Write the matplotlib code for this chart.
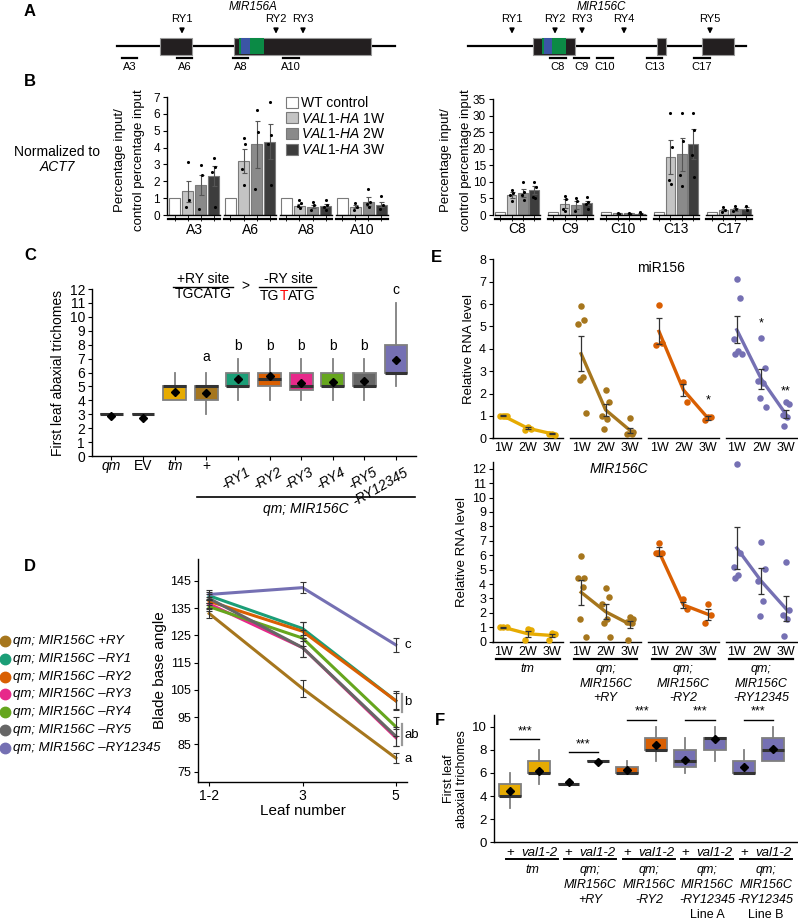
import matplotlib
matplotlib.use('Agg')
import matplotlib.pyplot as plt
import matplotlib.patches as patches
from matplotlib.lines import Line2D
from matplotlib.transforms import blended_transform_factory
import numpy as np

plt.rcParams['font.family'] = ['Liberation Sans', 'DejaVu Sans']
plt.rcParams['mathtext.fontset'] = 'custom'
plt.rcParams['mathtext.rm'] = 'Liberation Sans'
plt.rcParams['mathtext.it'] = 'Liberation Sans:italic'

# ---------------- data ----------------
# A: gene schematics (diagram units)
a_span = (117, 395)
a_exons = [(160, 192), (234, 371)]
a_blocks = [(239, 241, 'g'), (241, 250, 'b'), (250, 264, 'g')]
a_ry = {'RY1': 182, 'RY2': 276, 'RY3': 303}
a_primers = {'A3': (122, 137), 'A6': (177, 192), 'A8': (233, 248), 'A10': (283, 299)}

c_span = (468, 746)
c_exons = [(533, 575), (657, 666), (702, 734)]
c_blocks = [(542, 544, 'g'), (544, 552, 'b'), (552, 566, 'g')]
c_ry = {'RY1': 512, 'RY2': 555, 'RY3': 582, 'RY4': 624, 'RY5': 710}
c_primers = {'C8': (550, 566), 'C9': (574, 589), 'C10': (597, 613), 'C13': (647, 662), 'C17': (694, 710)}

# B: ChIP bars (WT control, 1W, 2W, 3W)
b_series = ['WT control', 'VAL1-HA 1W', 'VAL1-HA 2W', 'VAL1-HA 3W']
bl_groups = ['A3', 'A6', 'A8', 'A10']
bl_means = [[1, 1.4, 1.8, 2.3], [1, 3.2, 4.2, 4.35], [1, 0.55, 0.5, 0.55], [1, 0.5, 0.8, 0.6]]
bl_err = [[0, 0.6, 0.6, 0.6], [0, 0.7, 1.4, 1.05], [0, 0.08, 0.1, 0.1], [0, 0.1, 0.25, 0.15]]
bl_pts = [[[3.15, 0.9, 0.45], [2.95, 2.4, 0.35], [3.4, 2.85, 2.55, 0.5]],
          [[4.55, 4.2, 2.75, 1.8], [6.25, 4.95, 1.55], [6.7, 4.75, 4.2, 1.8]],
          [[0.9, 0.7, 0.55, 0.4], [0.75, 0.6, 0.3], [0.9, 0.6, 0.45, 0.3]],
          [[0.7, 0.45, 0.3], [1.55, 0.8, 0.65, 0.45], [1.1, 0.6, 0.35]]]
br_groups = ['C8', 'C9', 'C10', 'C13', 'C17']
br_means = [[1, 6.0, 6.7, 7.5], [1, 3.4, 2.9, 3.5], [1, 0.5, 0.5, 0.45],
            [1, 17.5, 18.3, 21.5], [1, 1.5, 1.7, 1.9]]
br_err = [[0, 0.8, 1.2, 1.3], [0, 1.3, 1.2, 0.6], [0, 0.1, 0.1, 0.15],
          [0, 5.0, 5.0, 4.5], [0, 0.4, 0.4, 0.5]]
br_pts = [[[7.5, 6.6, 5.9, 4.3], [10.1, 7.0, 6.0, 4.6], [10.0, 8.5, 5.5, 5.0]],
          [[5.8, 4.8, 1.8, 1.2], [5.0, 4.1, 1.2], [5.3, 4.0, 3.4, 1.8]],
          [[0.6, 0.4], [0.55, 0.4], [0.8, 0.3]],
          [[30.9, 20.4, 10.7, 9.4], [30.9, 22.3, 12.2, 8.7], [30.9, 25.7, 18.2, 11.5]],
          [[2.5, 1.6, 1.0], [2.6, 1.8, 1.3], [2.6, 1.5]]]

# C: trichome boxes
c_labels = ['qm', 'EV', 'tm', '+', '-RY1', '-RY2', '-RY3', '-RY4', '-RY5', '-RY12345']
c_q1 = [3, 3, 4, 4, 5, 5, 4.75, 5, 5, 6]
c_med = [3, 3, 5, 5, 5, 5.5, 5, 5, 5, 6]
c_q3 = [3, 3, 5, 5, 6, 6, 6, 6, 6, 8]
c_lo = [3, 3, 4, 3, 4, 4, 4, 4, 4, 5]
c_hi = [3, 3, 6, 6, 7, 7, 7, 7, 7, 11]
c_mean = [2.9, 2.75, 4.6, 4.5, 5.55, 5.75, 5.25, 5.3, 5.4, 6.9]
c_letters = ['', '', '', 'a', 'b', 'b', 'b', 'b', 'b', 'c']
c_letter_y = [0, 0, 0, 7.1, 7.9, 7.9, 7.9, 7.9, 7.9, 11.9]

# D: blade base angle
d_leaves = ['1-2', '3', '5']
d_lines = ['+RY', '–RY1', '–RY2', '–RY3', '–RY4', '–RY5', '–RY12345']
d_means = [[133, 105.5, 80], [139.5, 127.5, 101], [137.5, 126.5, 101], [136.5, 120.5, 87.5],
           [135.5, 124, 91.5], [138.5, 120.5, 88], [140, 142.5, 121.5]]
d_err = [[1.5, 3, 2], [1.5, 2.5, 3], [1.5, 3.5, 3.5], [1.5, 3.5, 3],
         [1.5, 3, 3.5], [1.5, 3.5, 3.5], [1.5, 2, 2.5]]

# E: relative RNA levels
e_weeks = ['1W', '2W', '3W']
e_top_means = [[1.0, 0.45, 0.2], [3.78, 1.27, 0.35], [4.78, 2.16, 0.9], [4.85, 2.65, 1.08]]
e_top_err = [[0.02, 0.05, 0.03], [0.78, 0.27, 0.12], [0.58, 0.27, 0.08], [0.6, 0.45, 0.17]]
e_top_pts = [[[1, 1, 1, 1], [0.5, 0.4, 0.35], [0.2, 0.15, 0.2]],
             [[5.93, 5.27, 5.12, 2.76, 2.6, 1.15], [2.15, 1.6, 1.0, 0.85, 0.4], [0.9, 0.3, 0.2, 0.2]],
             [[5.95, 4.25, 4.15], [2.5, 1.6], [0.95, 0.95, 0.8]],
             [[7.1, 6.25, 4.45, 3.9, 3.75, 3.75], [4.5, 3.15, 2.55, 2.45, 1.8, 1.4],
              [1.6, 1.55, 1.05, 0.95, 0.55]]]
e_bot_means = [[1.0, 0.55, 0.43], [3.43, 2.08, 1.2], [6.25, 2.55, 1.9], [6.5, 4.2, 2.3]]
e_bot_err = [[0.02, 0.2, 0.12], [0.85, 0.52, 0.25], [0.3, 0.22, 0.4], [1.45, 0.9, 0.85]]
e_bot_pts = [[[1, 1, 1], [0.85, 0.8, 0.15], [0.6, 0.55, 0.1]],
             [[5.95, 4.45, 4.4, 3.8, 1.6, 0.3], [3.7, 3.1, 2.65, 1.55, 1.3, 0.3],
              [1.7, 1.55, 1.35, 1.3, 0.1]],
             [[6.85, 6.15, 6.15], [2.95, 2.3], [2.6, 1.85, 1.3]],
             [[12.3, 6.15, 5.2, 4.65, 4.4], [6.95, 5.05, 4.2, 2.8, 1.75], [5.5, 2.2, 1.85, 1.55, 0.4]]]
e_group_names = ['tm', 'qm;\nMIR156C\n+RY', 'qm;\nMIR156C\n-RY2', 'qm;\nMIR156C\n-RY12345']

# F: trichomes with val1-2
f_q1 = [4, 6, 5, 7, 6, 8, 6.5, 8, 6, 7]
f_med = [4, 6, 5, 7, 6, 8, 7, 9, 6, 8]
f_q3 = [5, 7, 5, 7, 6.5, 9, 8, 9, 7, 9]
f_lo = [3, 5, 5, 7, 6, 7, 6, 7, 6, 7]
f_hi = [6, 8, 5, 7, 7, 10, 9, 10, 8, 10]
f_mean = [4.45, 6.15, 5.2, 6.9, 6.25, 8.4, 7.1, 8.9, 6.5, 8.1]
f_sig_y = [8.9, 7.8, 10.6, 10.6, 10.6]
f_groups = ['tm', 'qm;\nMIR156C\n+RY', 'qm;\nMIR156C\n-RY2', 'qm;\nMIR156C\n-RY12345\nLine A',
            'qm;\nMIR156C\n-RY12345\nLine B']

# ---------------- style ----------------
COL = {'tm': '#E6AB02', '+RY': '#A6761D', 'RY1': '#1B9E77', 'RY2': '#D95F02', 'RY3': '#E7298A',
       'RY4': '#66A61E', 'RY5': '#666666', 'RY12345': '#7570B3'}
c_colors = ['#555555', '#555555', COL['tm'], COL['+RY'], COL['RY1'], COL['RY2'], COL['RY3'],
            COL['RY4'], COL['RY5'], COL['RY12345']]
d_colors = [COL['+RY'], COL['RY1'], COL['RY2'], COL['RY3'], COL['RY4'], COL['RY5'], COL['RY12345']]
e_colors = [COL['tm'], COL['+RY'], COL['RY2'], COL['RY12345']]
f_colors = [COL['tm'], COL['tm'], COL['+RY'], COL['+RY'], COL['RY2'], COL['RY2'],
            COL['RY12345'], COL['RY12345'], COL['RY12345'], COL['RY12345']]
bar_colors = ['white', '#c4c4c4', '#8a8a8a', '#3d3d3d']
GREEN, BLUE, BLACK = '#0b8a45', '#3b55a5', '#231f20'

W, H = 798, 921
fig = plt.figure(figsize=(W / 100, H / 100), dpi=100)


def px_axes(x0, y0, x1, y1):
    return fig.add_axes([x0 / W, 1 - y1 / H, (x1 - x0) / W, (y1 - y0) / H])


def fy(y):
    return 1 - y / H


def ftext(x, y, s, **kw):
    return fig.text(x / W, fy(y), s, **kw)


def bt(ax):
    return blended_transform_factory(ax.transData, fig.transFigure)


def jit(n, w=0.18):
    pattern = [0.0, 0.6, -0.6, 0.3, -0.3, 0.9, -0.9]
    return np.array([pattern[i % len(pattern)] * w for i in range(n)])


def basic(ax, fs):
    for s in ['top', 'right']:
        ax.spines[s].set_visible(False)
    ax.spines['left'].set_linewidth(1.0)
    ax.spines['bottom'].set_linewidth(1.0)
    ax.tick_params(labelsize=fs, length=3, width=0.8, pad=2)


# ---------------- panel labels ----------------
for lab, x, y in [('A', 30, 12), ('B', 30, 82), ('C', 30, 255), ('D', 30, 566), ('E', 436, 258), ('F', 440, 720)]:
    ftext(x, y, lab, fontsize=12, fontweight='bold', ha='center', va='center')

# ---------------- A ----------------
axA = px_axes(0, 0, W, 80)
axA.set_xlim(0, W)
axA.set_ylim(80, 0)
axA.axis('off')


def gene(span, exons, blocks, ry, primers, name, name_x):
    axA.plot(span, [46, 46], color='black', lw=1.6, zorder=1)
    for x0, x1 in exons:
        axA.add_patch(patches.Rectangle((x0, 38), x1 - x0, 17, facecolor=BLACK,
                                        edgecolor='#999999', lw=0.8, zorder=2))
    for x0, x1, c in blocks:
        axA.add_patch(patches.Rectangle((x0, 38.5), x1 - x0, 16, facecolor=GREEN if c == 'g' else BLUE,
                                        edgecolor='none', zorder=3))
    for k, x in ry.items():
        axA.annotate('', xy=(x, 36.5), xytext=(x, 26), arrowprops=dict(arrowstyle='-|>', lw=1.1,
                                                                        color='black', mutation_scale=7))
        axA.text(x, 19, k, ha='center', va='center', fontsize=8)
    for k, (x0, x1) in primers.items():
        axA.plot([x0, x1], [58.5, 58.5], color='black', lw=1.6)
        axA.text((x0 + x1) / 2, 67, k, ha='center', va='center', fontsize=8)
    axA.text(name_x, 7, name, ha='center', va='center', fontsize=8.5, style='italic')


gene(a_span, a_exons, a_blocks, a_ry, a_primers, 'MIR156A', 253)
gene(c_span, c_exons, c_blocks, c_ry, c_primers, 'MIR156C', 601)


# ---------------- B ----------------
def bars(ax, groups, means, errs, pts, gap, label_y):
    tr = bt(ax)
    for g, name in enumerate(groups):
        xs = g * gap + np.arange(4)
        ax.bar(xs, means[g], width=0.86, color=bar_colors, edgecolor='#7a7a7a', lw=0.8, zorder=2)
        ax.errorbar(xs[1:], means[g][1:], yerr=errs[g][1:], fmt='none', ecolor='#555555',
                    elinewidth=0.8, capsize=1.8, capthick=0.8, zorder=3)
        for i in range(1, 4):
            p = pts[g][i - 1]
            ax.scatter(xs[i] + jit(len(p), 0.2), p, s=5, color='black', zorder=4, lw=0)
        ax.plot([xs[0] - 0.5, xs[-1] + 0.5], [0, 0], color='black', lw=1.0, clip_on=False, zorder=5)
        yb = ax.transData.transform((0, 0))[1]
        ax.plot([xs[0] - 0.5, xs[-1] + 0.5], [(yb - 4.5) / (H), (yb - 4.5) / H], color='black', lw=1.6,
                clip_on=False, transform=tr)
        ax.text(xs.mean(), fy(label_y), name, transform=tr, ha='center', va='center', fontsize=10)
    ax.spines['bottom'].set_visible(False)
    ax.set_xticks([g * gap + i for g in range(len(groups)) for i in range(4)])
    ax.set_xticklabels([])
    ax.tick_params(axis='x', length=4, width=0.6)


axBL = px_axes(167, 97, 390, 215)
axBL.set_xlim(-0.58, 16.46)
axBL.set_ylim(0, 7)
basic(axBL, 8.5)
axBL.set_yticks(range(8))
bars(axBL, bl_groups, bl_means, bl_err, bl_pts, 4.27, 230)

axBR = px_axes(493, 99, 755, 215)
axBR.set_xlim(-0.65, 22.56)
axBR.set_ylim(0, 35)
basic(axBR, 8.5)
axBR.set_yticks(range(0, 36, 5))
bars(axBR, br_groups, br_means, br_err, br_pts, 4.69, 229)

for x0, x1 in [(120, 139), (446, 466)]:
    ftext(x0, 160, 'Percentage input/', rotation=90, ha='center', va='center', fontsize=9.5)
    ftext(x1, 160, 'control percentage input', rotation=90, ha='center', va='center', fontsize=9.5)
ftext(57, 152, 'Normalized to', ha='center', va='center', fontsize=10)
ftext(57, 167, 'ACT7', ha='center', va='center', fontsize=10, style='italic')

handles = [patches.Patch(facecolor=c, edgecolor='#7a7a7a', lw=0.8) for c in bar_colors]
labels = ['WT control'] + [r'$\mathit{VAL1}$-$\mathit{HA}$ ' + s.split()[-1] for s in b_series[1:]]
fig.legend(handles, labels, loc='upper left', bbox_to_anchor=(286 / W, fy(96)), frameon=False,
           fontsize=10, handlelength=0.85, handleheight=0.85, handletextpad=0.25, labelspacing=0.12,
           borderaxespad=0, borderpad=0)

# ---------------- C ----------------
axC = px_axes(92, 289, 416, 456)
axC.set_xlim(-0.61, 9.63)
axC.set_ylim(0, 12)
basic(axC, 10)
axC.set_yticks(range(13))
stats = [dict(med=c_med[i], q1=c_q1[i], q3=c_q3[i], whislo=c_lo[i], whishi=c_hi[i], mean=c_mean[i],
              fliers=[]) for i in range(len(c_labels))]
bp = axC.bxp(stats, positions=np.arange(len(c_labels)), widths=0.72, patch_artist=True, showmeans=True,
             showcaps=False, boxprops=dict(edgecolor='#7f7f7f', lw=1.3),
             whiskerprops=dict(color='#7f7f7f', lw=1.3),
             medianprops=dict(color='#333333', lw=2.2),
             meanprops=dict(marker='D', markerfacecolor='black', markeredgecolor='black', markersize=3.8))
for patch, c in zip(bp['boxes'], c_colors):
    patch.set_facecolor(c)
axC.set_xticks(np.arange(len(c_labels)))
axC.set_xticklabels([])
trC = bt(axC)
for i, lab in enumerate(c_labels):
    if lab.startswith('-'):
        axC.text(i + 0.25, fy(465), lab, transform=trC, rotation=30, ha='right', va='top',
                 rotation_mode='anchor', fontsize=10, style='italic')
    else:
        axC.text(i, fy(466), lab, transform=trC, ha='center', va='center', fontsize=10,
                 style='normal' if lab in ('EV', '+') else 'italic')
    if c_letters[i]:
        axC.text(i, c_letter_y[i], c_letters[i], ha='center', va='center', fontsize=10)
axC.plot([2.71, 9.59], [fy(497), fy(497)], transform=trC, color='black', lw=1.2, clip_on=False)
axC.text(6.15, fy(509), 'qm; MIR156C', transform=trC, ha='center', va='center', fontsize=10, style='italic')
axC.set_ylabel('First leaf abaxial trichomes', fontsize=10, labelpad=3)
# RY site header
ftext(203, 279, '+RY site', ha='center', va='center', fontsize=10)
ftext(203, 294, 'TGCATG', ha='center', va='center', fontsize=10)
fig.add_artist(Line2D([173 / W, 233 / W], [fy(287), fy(287)], color='black', lw=1.0))
ftext(245, 286, '>', ha='center', va='center', fontsize=10)
ftext(288, 279, '-RY site', ha='center', va='center', fontsize=10)
fig.add_artist(Line2D([259 / W, 316 / W], [fy(287), fy(287)], color='black', lw=1.0))
t1 = ftext(260, 300, 'TG', ha='left', va='baseline', fontsize=10)
t2 = axC.annotate('T', xy=(1, 0), xycoords=t1, ha='left', va='bottom', fontsize=10, color='red',
                  annotation_clip=False)
axC.annotate('ATG', xy=(1, 0), xycoords=t2, ha='left', va='bottom', fontsize=10, annotation_clip=False)

# ---------------- D ----------------
axD = px_axes(198, 559, 407, 782)
axD.set_xlim(-0.12, 2.12)
axD.set_ylim(71.2, 153)
basic(axD, 9)
axD.set_yticks(range(75, 146, 10))
axD.set_xticks(range(3))
axD.set_xticklabels(d_leaves, fontsize=10)
for i, name in enumerate(d_lines):
    axD.plot(range(3), d_means[i], color=d_colors[i], lw=2.2, zorder=2 + (i == 3) * 0 - (i == 3) * 1)
    axD.errorbar(range(3), d_means[i], yerr=d_err[i], fmt='none', ecolor='#333333', elinewidth=0.8,
                 capsize=2.5, capthick=0.8, zorder=4)
axD.plot([2.065, 2.065], [97, 103.5], color='#999999', lw=1.6, clip_on=False)
axD.plot([2.065, 2.065], [84.6, 92.5], color='#999999', lw=1.6, clip_on=False)
for s, y in [('c', 121.3), ('b', 100.5), ('ab', 88.6), ('a', 79.8)]:
    axD.text(2.09, y, s, ha='left', va='center', fontsize=9.5, clip_on=False)
axD.set_ylabel('Blade base angle', fontsize=11, labelpad=2)
axD.set_xlabel('Leaf number', fontsize=11, labelpad=1)
for i, name in enumerate(d_lines):
    yy = 641 + i * 17.8
    fig.add_artist(Line2D([5 / W], [fy(yy)], marker='o', color=d_colors[i], markersize=7.5, ls='none'))
    ftext(13, yy, 'qm; MIR156C ' + name, ha='left', va='center', fontsize=9.5, style='italic')

# ---------------- E ----------------
E_GAP = 3.18


def e_panel(ax, means, errs, pts, xlab_y):
    tr = bt(ax)
    ax.spines['bottom'].set_visible(False)
    ax.set_xticks([])
    for g in range(4):
        xs = g * E_GAP + np.arange(3)
        c = e_colors[g]
        ax.plot([xs[0] - 0.45, xs[-1] + 0.45], [0, 0], color='black', lw=1.0, clip_on=False)
        ax.plot(xs, means[g], color=c, lw=2.4, zorder=2)
        for i in range(3):
            p = pts[g][i]
            ax.scatter(xs[i] + jit(len(p), 0.22), p, s=22, color=c, zorder=3, lw=0, clip_on=False)
            ax.text(xs[i], fy(xlab_y), e_weeks[i], transform=tr, ha='center', va='center', fontsize=9)
        ax.errorbar(xs, means[g], yerr=errs[g], fmt='none', ecolor='#333333', elinewidth=0.9,
                    capsize=2.5, capthick=0.9, zorder=4)


axE1 = px_axes(493, 259.3, 798, 438.3)
axE1.set_xlim(-0.42, 12.04)
axE1.set_ylim(0, 8)
basic(axE1, 9)
axE1.set_yticks(range(9))
e_panel(axE1, e_top_means, e_top_err, e_top_pts, 448)
axE1.set_ylabel('Relative RNA level', fontsize=9.5, labelpad=3)
axE1.text(2 * E_GAP + 0.1, 7.6, 'miR156', ha='center', va='center', fontsize=10)
for x, y, s in [(2 * E_GAP + 2, 1.7, '*'), (3 * E_GAP + 1, 5.15, '*'), (3 * E_GAP + 2, 2.1, '**')]:
    axE1.text(x, y, s, ha='center', va='center', fontsize=9)

axE2 = px_axes(493, 461.7, 798, 641.7)
axE2.set_xlim(-0.42, 12.04)
axE2.set_ylim(0, 12.49)
basic(axE2, 9)
axE2.set_yticks(range(13))
e_panel(axE2, e_bot_means, e_bot_err, e_bot_pts, 651.7)
axE2.set_ylabel('Relative RNA level', fontsize=9.5, labelpad=3)
axE2.text(E_GAP + 1.55, 11.95, 'MIR156C', ha='center', va='center', fontsize=10, style='italic')
trE = bt(axE2)
for g, name in enumerate(e_group_names):
    x0 = g * E_GAP
    axE2.plot([x0 - 0.3, x0 + 2.3], [fy(659), fy(659)], transform=trE, color='black', lw=1.6, clip_on=False)
    axE2.text(x0 + 1, fy(663), name, transform=trE, ha='center', va='top', fontsize=9, style='italic',
              linespacing=1.3)

# ---------------- F ----------------
axF = px_axes(494, 715, 797, 842.3)
axF.set_xlim(-0.55, 9.82)
axF.set_ylim(0, 11)
basic(axF, 9.5)
axF.set_yticks(range(0, 11, 2))
statsF = [dict(med=f_med[i], q1=f_q1[i], q3=f_q3[i], whislo=f_lo[i], whishi=f_hi[i], mean=f_mean[i],
               fliers=[]) for i in range(10)]
bpF = axF.bxp(statsF, positions=np.arange(10), widths=0.75, patch_artist=True, showmeans=True,
              showcaps=False, boxprops=dict(edgecolor='#7f7f7f', lw=1.3),
              whiskerprops=dict(color='#7f7f7f', lw=1.3),
              medianprops=dict(color='#333333', lw=2.2),
              meanprops=dict(marker='D', markerfacecolor='black', markeredgecolor='black', markersize=3.8))
for patch, c in zip(bpF['boxes'], f_colors):
    patch.set_facecolor(c)
axF.set_xticks([])
trF = bt(axF)
for i in range(10):
    axF.text(i, fy(852.5), '+' if i % 2 == 0 else 'val1-2', transform=trF, ha='center', va='center',
             fontsize=9.5, style='normal' if i % 2 == 0 else 'italic')
for g, name in enumerate(f_groups):
    x0 = 2 * g
    axF.plot([x0 - 0.14, x0 + 1.64], [fy(859), fy(859)], transform=trF, color='black', lw=1.4, clip_on=False)
    lines = name.split('\n')
    for k, ln in enumerate(lines):
        axF.text(x0 + 0.75, fy(870 + 15 * k), ln, transform=trF, ha='center', va='center', fontsize=9,
                 style='normal' if ln.startswith('Line') else 'italic')
    y = f_sig_y[g]
    axF.plot([x0, x0 + 1], [y, y], color='black', lw=1.0, clip_on=False)
    axF.text(x0 + 0.5, y + 0.15, '***', ha='center', va='bottom', fontsize=9, clip_on=False)
axF.set_ylabel('First leaf\nabaxial trichomes', fontsize=9, labelpad=3, linespacing=1.1)

fig.savefig('out.png', dpi=100)
